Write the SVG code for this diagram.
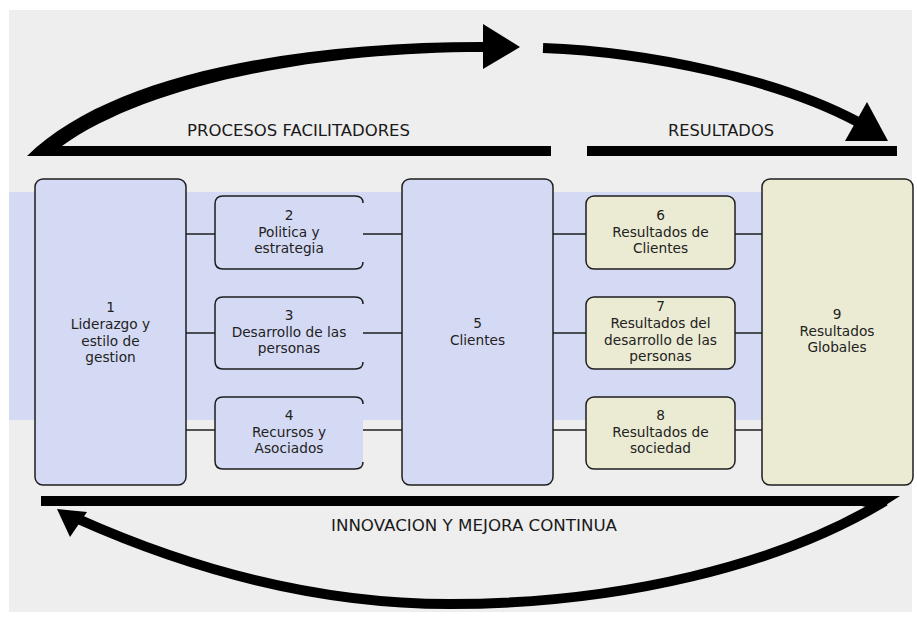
<svg xmlns="http://www.w3.org/2000/svg" width="917" height="617" viewBox="0 0 917 617">
<style>
.box{stroke:#1e1e1e;stroke-width:1.5}
.blue{fill:#d5daf4}
.beige{fill:#ebebd3}
.edge{fill:none;stroke:#1e1e1e;stroke-width:1.5}
.t{font-family:"DejaVu Sans","Verdana",sans-serif;font-size:13.7px;fill:#222;text-anchor:middle}
.h{font-family:"DejaVu Sans","Verdana",sans-serif;font-size:15px;fill:#1a1a1a}
.conn{stroke:#1e1e1e;stroke-width:1.5;fill:none}
.bar{fill:#000}
</style>
<rect x="0" y="0" width="917" height="617" fill="#ffffff"/>
<rect x="9" y="10" width="903" height="602" fill="#eeeeee"/>
<rect x="9" y="192" width="903" height="228" fill="#d5daf4"/>

<g id="flow-arrows">
  <path class="bar" d="M27,156 C110,75 290,42 483,42 L483,52 C300,52 140,90 62,146 L551,146 L551,156 Z"/>
  <polygon class="bar" points="483,24 520,47 483,69"/>
  <path d="M543,48 C650,52 780,80 858,122" fill="none" stroke="#000" stroke-width="10"/>
  <polygon class="bar" points="867,102 845,141 888,141"/>
  <rect class="bar" x="587" y="146" width="310" height="10"/>
  <rect class="bar" x="41" y="496" width="830" height="10"/>
  <polygon class="bar" points="855,496 900,496 878,510 862,506"/>
  <path d="M885,501 C780,565 620,604 450,604 C300,604 170,560 78,519" fill="none" stroke="#000" stroke-width="10"/>
  <polygon class="bar" points="57,509 87,512 70,537"/>
</g>

<g id="labels">
  <text class="h" x="187" y="136" textLength="223" lengthAdjust="spacingAndGlyphs">PROCESOS FACILITADORES</text>
  <text class="h" x="668" y="136" textLength="106" lengthAdjust="spacingAndGlyphs">RESULTADOS</text>
  <text class="h" x="331" y="531" textLength="286" lengthAdjust="spacingAndGlyphs">INNOVACION Y MEJORA CONTINUA</text>
</g>

<g id="connectors">
  <line class="conn" x1="186" y1="234" x2="215" y2="234"/>
  <line class="conn" x1="186" y1="333" x2="215" y2="333"/>
  <line class="conn" x1="186" y1="430" x2="215" y2="430"/>
  <line class="conn" x1="363" y1="234" x2="402" y2="234"/>
  <line class="conn" x1="363" y1="333" x2="402" y2="333"/>
  <line class="conn" x1="363" y1="430" x2="402" y2="430"/>
  <line class="conn" x1="553" y1="234" x2="586" y2="234"/>
  <line class="conn" x1="553" y1="333" x2="586" y2="333"/>
  <line class="conn" x1="553" y1="430" x2="586" y2="430"/>
  <line class="conn" x1="735" y1="234" x2="762" y2="234"/>
  <line class="conn" x1="735" y1="333" x2="762" y2="333"/>
  <line class="conn" x1="735" y1="430" x2="762" y2="430"/>
</g>

<g id="node1">
  <rect class="box blue" x="35" y="179" width="151" height="306" rx="8"/>
  <text class="t" x="110.5" y="312">1</text>
  <text class="t" x="110.5" y="329">Liderazgo y</text>
  <text class="t" x="110.5" y="345.5">estilo de</text>
  <text class="t" x="110.5" y="362">gestion</text>
</g>

<g id="node2">
  <rect class="blue" x="215" y="196" width="148" height="73" rx="8"/>
  <path class="edge" d="M363,203 Q363,196 355,196 H223 Q215,196 215,204 V261 Q215,269 223,269 H355 Q363,269 363,262"/>
  <text class="t" x="289" y="220">2</text>
  <text class="t" x="289" y="236.5">Politica y</text>
  <text class="t" x="289" y="253">estrategia</text>
</g>

<g id="node3">
  <rect class="blue" x="215" y="297" width="148" height="72" rx="8"/>
  <path class="edge" d="M363,304 Q363,297 355,297 H223 Q215,297 215,305 V361 Q215,369 223,369 H355 Q363,369 363,362"/>
  <text class="t" x="289" y="320">3</text>
  <text class="t" x="289" y="337">Desarrollo de las</text>
  <text class="t" x="289" y="353">personas</text>
</g>

<g id="node4">
  <rect class="blue" x="215" y="397" width="148" height="72" rx="8"/>
  <path class="edge" d="M363,404 Q363,397 355,397 H223 Q215,397 215,405 V461 Q215,469 223,469 H355 Q363,469 363,462"/>
  <text class="t" x="289" y="420">4</text>
  <text class="t" x="289" y="437">Recursos y</text>
  <text class="t" x="289" y="453">Asociados</text>
</g>

<g id="node5">
  <rect class="box blue" x="402" y="179" width="151" height="306" rx="8"/>
  <text class="t" x="477.5" y="328">5</text>
  <text class="t" x="477.5" y="345">Clientes</text>
</g>

<g id="node6">
  <rect class="box beige" x="586" y="196" width="149" height="73" rx="8"/>
  <text class="t" x="660.5" y="220">6</text>
  <text class="t" x="660.5" y="236.5">Resultados de</text>
  <text class="t" x="660.5" y="253">Clientes</text>
</g>

<g id="node7">
  <rect class="box beige" x="586" y="297" width="149" height="72" rx="8"/>
  <text class="t" x="660.5" y="311">7</text>
  <text class="t" x="660.5" y="328">Resultados del</text>
  <text class="t" x="660.5" y="344.5">desarrollo de las</text>
  <text class="t" x="660.5" y="361">personas</text>
</g>

<g id="node8">
  <rect class="box beige" x="586" y="397" width="149" height="72" rx="8"/>
  <text class="t" x="660.5" y="420">8</text>
  <text class="t" x="660.5" y="437">Resultados de</text>
  <text class="t" x="660.5" y="453">sociedad</text>
</g>

<g id="node9">
  <rect class="box beige" x="762" y="179" width="151" height="306" rx="8"/>
  <text class="t" x="837" y="319">9</text>
  <text class="t" x="837" y="336">Resultados</text>
  <text class="t" x="837" y="352">Globales</text>
</g>
</svg>
